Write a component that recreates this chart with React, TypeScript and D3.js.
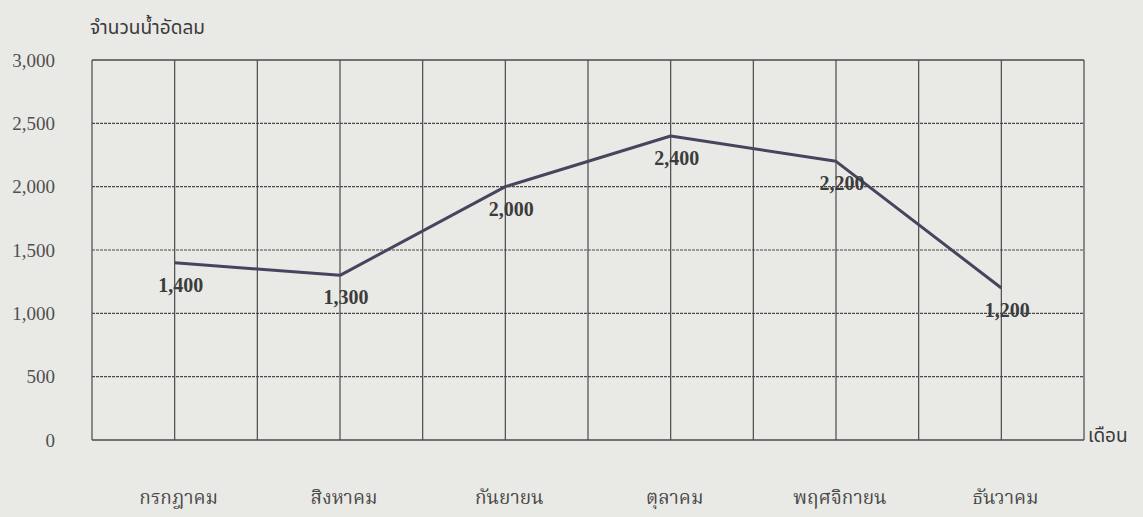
import React from 'react';
import * as d3 from 'd3';

// monthly soft-drink count (จำนวนน้ำอัดลม)
const months = ['กรกฎาคม', 'สิงหาคม', 'กันยายน', 'ตุลาคม', 'พฤศจิกายน', 'ธันวาคม'];
const sales = [1400, 1300, 2000, 2400, 2200, 1200];
const yTicks = [0, 500, 1000, 1500, 2000, 2500, 3000];
const yTitle = 'จำนวนน้ำอัดลม';
const xTitle = 'เดือน';

const W = 1143;
const H = 517;
const margin = { top: 60, right: 59, bottom: 77, left: 92 };

export default function App() {
  let innerW = W - margin.left - margin.right
    , innerH = H - margin.top - margin.bottom;

  let x = d3.scaleBand<string>().domain(months).range([0, innerW]).padding(0);
  let y = d3.scaleLinear().domain([0, 3000]).range([innerH, 0]);

  // two grid columns per month
  let cols = d3.range(0, months.length * 2 + 1).map(i => (i * x.bandwidth()) / 2);

  let line = d3.line<number>()
    .x((_, i) => (x(months[i]) as number) + x.bandwidth() / 2)
    .y(d => y(d));

  let fmt = d3.format(',');
  let serif = '"Liberation Serif", "DejaVu Serif", serif';
  let thai = '"Noto Sans Thai", "Noto Sans", "Loma", "Garuda", sans-serif';
  let thaiSerif = '"Noto Serif Thai", "Noto Sans Thai", "Noto Sans", serif';

  return (
    <svg width={W} height={H} style={{ display: 'block', position: 'absolute', left: 0, top: 0 }}>
      <rect width={W} height={H} fill="#e9e9e6" />
      <text x={90} y={34} fontFamily={thai} fontSize={19} fill="#3a3a3a">{yTitle}</text>
      <g transform={`translate(${margin.left},${margin.top})`}>
        {yTicks.map(t => (
          <g key={t}>
            {t > 0 && t < 3000 &&
              <line x1={0} x2={innerW} y1={y(t)} y2={y(t)} stroke="#4a4a4a" strokeWidth={1.2} strokeDasharray="3 1" />}
            <text x={-37} y={y(t)} dy="0.35em" textAnchor="end" fontFamily={serif} fontSize={19}
              fill="#505050">{fmt(t)}</text>
          </g>
        ))}
        {cols.map((c, i) => (
          <line key={i} x1={c} x2={c} y1={0} y2={innerH} stroke="#4a4a4a" strokeWidth={1.2} />
        ))}
        <line x1={0} x2={innerW} y1={0} y2={0} stroke="#4a4a4a" strokeWidth={1.5} />
        <line x1={0} x2={innerW} y1={innerH} y2={innerH} stroke="#4a4a4a" strokeWidth={1.5} />
        <path d={line(sales) || ''} fill="none" stroke="#48445e" strokeWidth={3} strokeLinejoin="round" />
        {sales.map((v, i) => (
          <text key={i} x={(x(months[i]) as number) + x.bandwidth() / 2 + 6} y={y(v) + 29}
            textAnchor="middle" fontFamily={serif} fontWeight="bold" fontSize={20} fill="#3c3c3c">{fmt(v)}</text>
        ))}
        {months.map(m => (
          <text key={m} x={(x(m) as number) + x.bandwidth() / 2 + 4} y={innerH + 64} textAnchor="middle"
            fontFamily={thaiSerif} fontSize={19} fill="#4a4a4a">{m}</text>
        ))}
        <text x={innerW + 4} y={innerH + 2} fontFamily={thai} fontSize={19} fill="#3a3a3a">{xTitle}</text>
      </g>
    </svg>
  );
}
